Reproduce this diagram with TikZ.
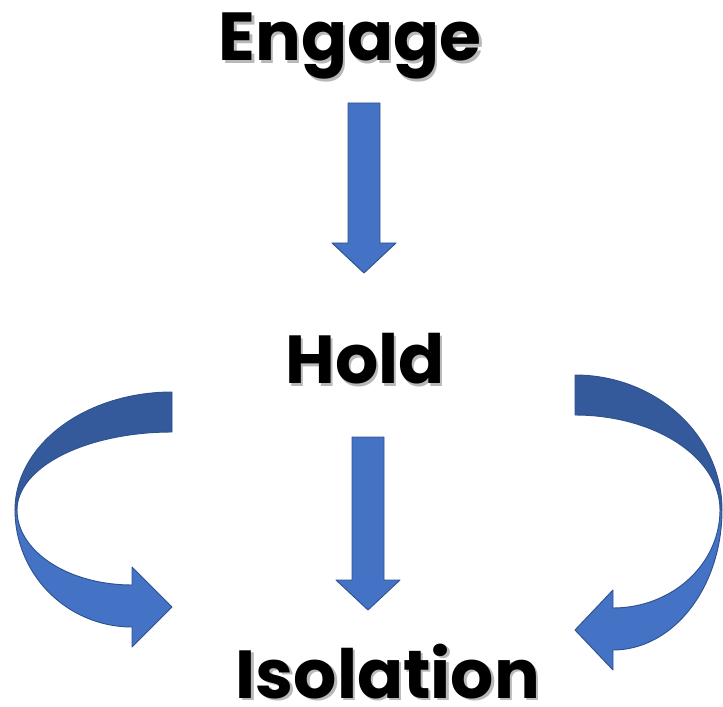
\documentclass[tikz,border=0pt]{standalone}
\usepackage{fontspec}
\setmainfont{Poppins}
\usepackage{tikz}
\usepackage{xcolor}
\usetikzlibrary{positioning, calc}

\definecolor{arrowfill}{RGB}{68,114,196}
\definecolor{arrowshade}{RGB}{52,90,156}
\definecolor{arrowline}{RGB}{47,82,143}

% word with a soft drop shadow behind it
\newcommand{\shadowword}[1]{\rlap{\hspace{0.075cm}\raisebox{-0.075cm}{\color{black!28}#1}}#1}

\tikzset{
  word/.style={font=\fontsize{58}{60}\selectfont\bfseries, inner sep=0pt, anchor=base, text depth=0pt},
  blockarrow/.style={fill=arrowfill, draw=arrowline, line width=0.8pt, line join=round},
  backside/.style={fill=arrowshade, draw=arrowline, line width=0.8pt, line join=round}
}

\begin{document}
\begin{tikzpicture}[x=0.03cm, y=-0.03cm] % one unit is one pixel, y downwards
  \useasboundingbox (0,0) rectangle (723,707);

  % Words
  \node[word] (engage) at (350,61) {\shadowword{Engage}};
  \node[word] (hold) at (365,384) {\shadowword{Hold}};
  \node[word] (isolation) at (388,698) {\shadowword{Isolation}};

  % Straight block arrows
  \filldraw[blockarrow] (348,103) -- (380,103) -- (380,243) -- (396,243)
    -- (364,273) -- (332,243) -- (348,243) -- cycle;
  \filldraw[blockarrow] (352,437) -- (384,437) -- (384,580) -- (400,580)
    -- (368,610) -- (336,580) -- (352,580) -- cycle;

  % Left curved arrow, back side (upper part)
  \filldraw[backside] (172,392)
    -- plot[smooth, samples=40, domain=90:180] ({172+157*cos(\x)}, {510-118*sin(\x)})
    -- plot[smooth, samples=40, domain=180:90] ({172+155*cos(\x)}, {510-78*sin(\x)})
    -- cycle;
  % Left curved arrow, front side (lower part with head)
  \filldraw[blockarrow] (15,510)
    -- plot[smooth, samples=40, domain=180:270] ({132+117*cos(\x)}, {510-117*sin(\x)})
    -- (132,647) -- (172,607) -- (132,567) -- (132,585)
    -- plot[smooth, samples=40, domain=270:180] ({132+115*cos(\x)}, {510-75*sin(\x)})
    -- cycle;

  % Right curved arrow, back side (upper part)
  \filldraw[backside] (575,375)
    -- plot[smooth, samples=40, domain=90:0] ({575+147*cos(\x)}, {510-135*sin(\x)})
    -- plot[smooth, samples=40, domain=0:90] ({575+145*cos(\x)}, {510-95*sin(\x)})
    -- cycle;
  % Right curved arrow, front side (lower part with head)
  \filldraw[blockarrow] (722,510)
    -- plot[smooth, samples=40, domain=0:-90] ({613+109*cos(\x)}, {510-140*sin(\x)})
    -- (613,670) -- (575,630) -- (613,590) -- (613,608)
    -- plot[smooth, samples=40, domain=-90:0] ({613+107*cos(\x)}, {510-98*sin(\x)})
    -- cycle;
\end{tikzpicture}
\end{document}
